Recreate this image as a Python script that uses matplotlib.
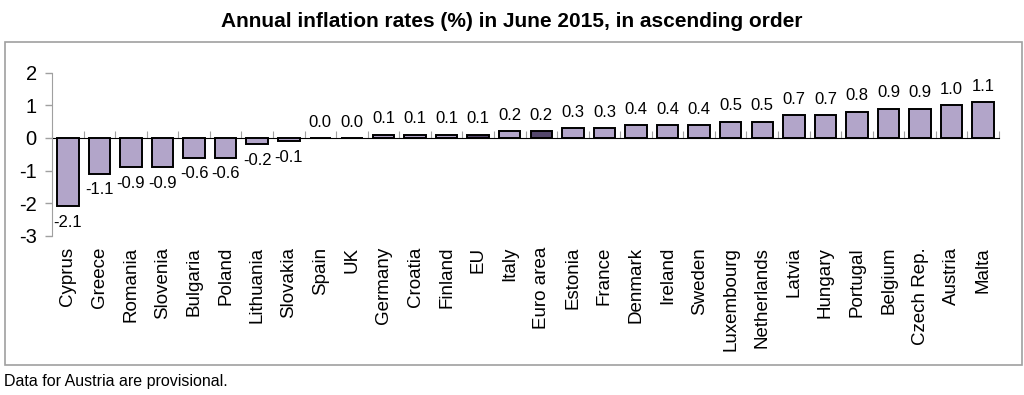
import matplotlib
matplotlib.use('Agg')
import matplotlib.pyplot as plt
from matplotlib.patches import Rectangle
import numpy as np

countries = ['Cyprus', 'Greece', 'Romania', 'Slovenia', 'Bulgaria', 'Poland',
             'Lithuania', 'Slovakia', 'Spain', 'UK', 'Germany', 'Croatia',
             'Finland', 'EU', 'Italy', 'Euro area', 'Estonia', 'France',
             'Denmark', 'Ireland', 'Sweden', 'Luxembourg', 'Netherlands',
             'Latvia', 'Hungary', 'Portugal', 'Belgium', 'Czech Rep.',
             'Austria', 'Malta']
rates = [-2.1, -1.1, -0.9, -0.9, -0.6, -0.6, -0.2, -0.1, 0.0, 0.0, 0.1, 0.1,
         0.1, 0.1, 0.2, 0.2, 0.3, 0.3, 0.4, 0.4, 0.4, 0.5, 0.5, 0.7, 0.7,
         0.8, 0.9, 0.9, 1.0, 1.1]
aggregates = ['EU', 'Euro area']
yticks = [-3, -2, -1, 0, 1, 2]

light = '#b2a5c9'
dark = '#54476c'
grey = '#a0a0a0'

plt.rcParams['font.family'] = ['Liberation Sans', 'DejaVu Sans']

fig = plt.figure(figsize=(10.24, 3.95), dpi=100)
ax = fig.add_axes([0.0508, 0.403, 0.9248, 0.413])

x = np.arange(len(countries))
colors = [dark if c in aggregates else light for c in countries]
ax.bar(x, rates, width=0.68, color=colors, edgecolor='black', linewidth=1.4, zorder=3)

for xi, v in zip(x, rates):
    if v < 0:
        ax.annotate(f'{v:.1f}', (xi, v), xytext=(0, -6), textcoords='offset points',
                    ha='center', va='top', fontsize=12)
    else:
        ax.annotate(f'{v:.1f}', (xi, v), xytext=(0, 6), textcoords='offset points',
                    ha='center', va='bottom', fontsize=12)

ax.set_xlim(-0.5, len(countries) - 0.5)
ax.set_ylim(-3, 2)
ax.set_yticks(yticks)
ax.set_yticklabels([str(t) for t in yticks], fontsize=14.5)
ax.tick_params(axis='y', colors=grey, labelcolor='black', length=5, width=1, pad=6)

ax.set_xticks(x)
ax.set_xticklabels(countries, rotation=90, fontsize=13.5)
ax.tick_params(axis='x', length=0, pad=8)

for s in ['top', 'right', 'bottom']:
    ax.spines[s].set_visible(False)
ax.spines['left'].set_color(grey)

# category axis drawn at zero
sec = ax.secondary_xaxis(0.6)
sec.set_xticks(np.arange(len(countries) + 1) - 0.5)
sec.tick_params(axis='x', direction='out', length=5, colors=grey, labelbottom=False,
                labeltop=False)
sec.spines['bottom'].set_color(grey)

fig.text(0.5, 0.945, 'Annual inflation rates (%) in June 2015, in ascending order',
         ha='center', va='center', fontsize=15, fontweight='bold',
         family=['Liberation Sans Narrow', 'Liberation Sans', 'DejaVu Sans'])
fig.text(0.004, 0.035, 'Data for Austria are provisional.', ha='left', va='center',
         fontsize=11.5)

fig.add_artist(Rectangle((5 / 1024, 1 - 365 / 395), 1017 / 1024, 323 / 395,
                         transform=fig.transFigure, fill=False, edgecolor=grey,
                         linewidth=1.2))

fig.savefig('out.png', dpi=100)
